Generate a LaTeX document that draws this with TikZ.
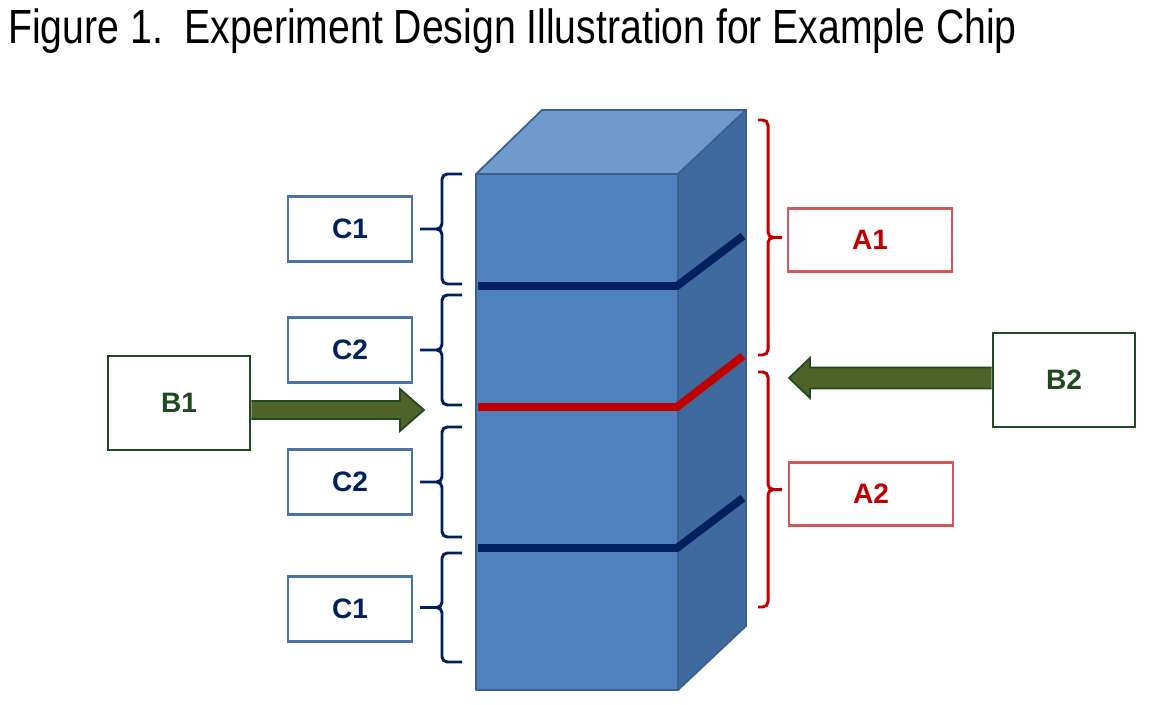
\documentclass[tikz,border=0pt]{standalone}
\usepackage{fontspec}
\setmainfont{Liberation Sans}
\usepackage{tikz}
\usetikzlibrary{calc}
\tikzset{>=latex}
\definecolor{cubefront}{HTML}{4F81BD}
\definecolor{cubetop}{HTML}{7099CC}
\definecolor{cubeside}{HTML}{3F6A9E}
\definecolor{cubeedge}{HTML}{3A6090}
\definecolor{navy}{HTML}{002060}
\definecolor{cboxline}{HTML}{4A74A8}
\definecolor{redline}{HTML}{C00000}
\definecolor{aboxline}{HTML}{D05A5A}
\definecolor{bgreen}{HTML}{1F4A1F}
\definecolor{arrowfill}{HTML}{4F6228}
\tikzset{
	cbox/.style={draw=cboxline, line width=1.6pt, minimum width=2.48cm, minimum height=1.3cm, text=navy, font=\fontsize{16}{16}\selectfont\bfseries},
	abox/.style={draw=aboxline, line width=1.6pt, minimum width=3.28cm, minimum height=1.26cm, text=redline, font=\fontsize{16}{16}\selectfont\bfseries},
	bbox/.style={draw=bgreen, line width=1.6pt, minimum width=2.84cm, minimum height=1.88cm, text=bgreen, font=\fontsize{16}{16}\selectfont\bfseries},
	lbrace/.style={draw=navy, line width=1.7pt, rounded corners=3pt, to path={-- ++(-20,0) |- ($(\tikztostart)!0.5!(\tikztotarget)+(-42,0)$) (\tikztotarget) -- ++(-20,0) |- ($(\tikztostart)!0.5!(\tikztotarget)+(-42,0)$)}},
	rbrace/.style={draw=redline, line width=1.7pt, rounded corners=3pt, to path={-- ++(10,0) |- ($(\tikztostart)!0.5!(\tikztotarget)+(24,0)$) (\tikztotarget) -- ++(10,0) |- ($(\tikztostart)!0.5!(\tikztotarget)+(24,0)$)}},
	layer/.style={line width=4.5pt},
	fatarrow/.style={draw=bgreen, fill=arrowfill, line width=1pt, line join=miter},
	cubeface/.style={draw=cubeedge, line width=1pt, line join=round},
}

\begin{document}
\begin{tikzpicture}[x=0.02cm, y=-0.02cm]
			\useasboundingbox (0,0) rectangle (1149,705);
			\node[anchor=base west, inner sep=0pt] (title) at (8,44) {\resizebox{574pt}{19.8pt}{\fontsize{28}{28}\selectfont Figure 1.\ \ Experiment Design Illustration for Example Chip}};

			\coordinate (ftl) at (476,174);
			\coordinate (ftr) at (678,174);
			\coordinate (fbr) at (678,690);
			\coordinate (fbl) at (476,690);
			\coordinate (btl) at (542,110);
			\coordinate (btr) at (746,110);
			\coordinate (bbr) at (746,626);
			\filldraw[cubeface, fill=cubefront] (fbl) rectangle (ftr);
			\filldraw[cubeface, fill=cubetop] (ftl) -- (btl) -- (btr) -- (ftr) -- cycle;
			\filldraw[cubeface, fill=cubeside] (ftr) -- (btr) -- (bbr) -- (fbr) -- cycle;

			\coordinate (l1a) at (478,286);
			\coordinate (l1b) at (677,286);
			\coordinate (l1c) at (743,236);
			\coordinate (l2a) at (478,407);
			\coordinate (l2b) at (677,407);
			\coordinate (l2c) at (743,356);
			\coordinate (l3a) at (478,548);
			\coordinate (l3b) at (677,548);
			\coordinate (l3c) at (743,498);
			\draw[layer, navy] (l1a) -- (l1b) -- (l1c);
			\draw[layer, redline] (l2a) -- (l2b) -- (l2c);
			\draw[layer, navy] (l3a) -- (l3b) -- (l3c);

			\node[cbox] (C1top) at (350,229) {C1};
			\node[cbox] (C2top) at (350,350) {C2};
			\node[cbox] (C2bot) at (350,482) {C2};
			\node[cbox] (C1bot) at (350,609) {C1};
			\draw[lbrace] (462,174) to (462,284);
			\draw[lbrace] (462,295) to (462,405);
			\draw[lbrace] (462,427) to (462,537);
			\draw[lbrace] (462,553) to (462,662);

			\node[abox] (A1) at (870,240) {A1};
			\node[abox] (A2) at (871,494) {A2};
			\draw[rbrace] (758,120) to (758,355);
			\draw[rbrace] (758,372) to (758,607);

			\node[bbox] (B1) at (179,403) {B1};
			\node[bbox] (B2) at (1064,380) {B2};
			\coordinate (b1tip) at (424,410);
			\coordinate (b1tail) at (B1.east |- b1tip);
			\coordinate (b2tip) at (789,378);
			\coordinate (b2tail) at (B2.west |- b2tip);
			\filldraw[fatarrow] ($(b1tail)+(0,-9)$) -- ($(b1tip)+(-24,-9)$) -- ($(b1tip)+(-24,-21)$) -- (b1tip) -- ($(b1tip)+(-24,21)$) -- ($(b1tip)+(-24,9)$) -- ($(b1tail)+(0,9)$);
			\filldraw[fatarrow] ($(b2tail)+(0,-10.5)$) -- ($(b2tip)+(21,-10.5)$) -- ($(b2tip)+(21,-20)$) -- (b2tip) -- ($(b2tip)+(21,20)$) -- ($(b2tip)+(21,10.5)$) -- ($(b2tail)+(0,10.5)$);
		\end{tikzpicture}
\end{document}
